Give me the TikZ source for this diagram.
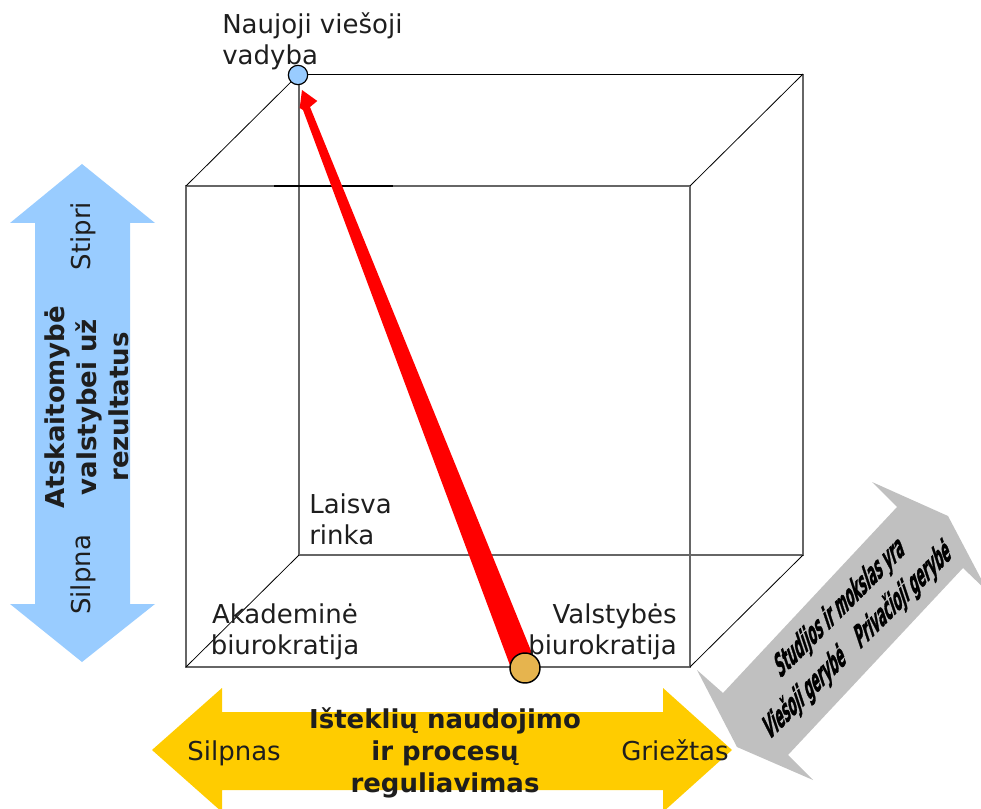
\documentclass[tikz,border=0pt]{standalone}
\usepackage{fontspec}
\setmainfont{DejaVu Sans}
\newfontfamily\gfont{DejaVu Sans Bold}[FakeBold=2]
\definecolor{cblue}{HTML}{99CCFF}
\definecolor{cyellow}{HTML}{FFCC00}
\definecolor{cgray}{HTML}{C0C0C0}
\definecolor{corange}{HTML}{E6B44E}
\definecolor{ctext}{HTML}{1E1E1E}
\begin{document}
\begin{tikzpicture}[x=0.75pt,y=-0.75pt,
  edge/.style={draw=black!60, line width=0.9pt},
  diag/.style={draw=black, line width=0.6pt},
  lbl/.style={font=\fontsize{19.5}{23.25}\selectfont, text=ctext, inner sep=0pt},
  blbl/.style={font=\bfseries\fontsize{19.5}{24}\selectfont, text=ctext, inner sep=0pt},
  glbl/.style={font=\gfont\fontsize{21}{24}\selectfont, text=black, inner sep=0pt, transform shape},
  gtf/.style={rotate=45, xslant=0.5, xscale=0.49},
  dot/.style={circle, draw=black, inner sep=0pt}]
\useasboundingbox (0,0) rectangle (981,809);
\clip (0,0) rectangle (981,809);

% grey double arrow
\fill[cgray] (697,670) -- (723,693) -- (897,507) -- (872,482) -- (948,516)
  -- (988,592) -- (963,568) -- (788,755) -- (813,780) -- (737,747) -- cycle;
% yellow double arrow
\fill[cyellow] (152,750) -- (222,688) -- (222,712) -- (663,712) -- (663,688)
  -- (732,750) -- (663,812) -- (663,790) -- (222,790) -- (222,812) -- cycle;
% blue double arrow
\fill[cblue] (82,164) -- (155,223) -- (130,223) -- (130,604) -- (155,604)
  -- (82,662) -- (10,604) -- (35,604) -- (35,223) -- (10,223) -- cycle;

% cube
\coordinate (ftl) at (186,186);
\coordinate (ftr) at (690,186);
\coordinate (fbl) at (186,667);
\coordinate (fbr) at (690,667);
\coordinate (btl) at (299,74);
\coordinate (btr) at (803,74);
\coordinate (bbl) at (299,555);
\coordinate (bbr) at (803,555);
\draw[edge] (bbl) -- (btl);
\draw[edge] (bbl) -- (bbr) -- (btr);
\draw[diag] (btl) -- (btr);
\draw[edge] (ftl) -- (ftr) -- (fbr) -- (fbl) -- cycle;
\draw[diag] (ftl) -- (btl);
\draw[diag] (ftr) -- (btr);
\draw[diag] (fbr) -- (bbr);
\draw[diag] (fbl) -- (bbl);
\draw[black, line width=0.8pt] (274,186) -- (393,186);

% axis texts
\node[lbl, rotate=90, anchor=base] (stipri) at (90,236) {Stipri};
\node[lbl, rotate=90, anchor=base] (silpna) at (90,575) {Silpna};
\node[blbl, rotate=90, align=center] (atsk) at (87,407) {Atskaitomybė\\valstybei už\\rezultatus};
\node[lbl, anchor=base] (silpnas) at (234,760) {Silpnas};
\node[lbl, anchor=base] (grieztas) at (675,760) {Griežtas};
\node[blbl, align=center] (istek) at (445,753) {Išteklių naudojimo\\ir procesų\\reguliavimas};

% grey arrow texts
\begin{scope}[shift={(840,608)}, gtf]
  \node[glbl] (stud) at (0,0) {Studijos ir mokslas yra};
\end{scope}
\begin{scope}[shift={(805,693)}, gtf]
  \node[glbl] (vies) at (0,0) {Viešoji gerybė};
\end{scope}
\begin{scope}[shift={(903,595)}, gtf]
  \node[glbl] (priv) at (0,0) {Privačioji gerybė};
\end{scope}

% corner labels
\node[lbl, align=left, anchor=north west] (nvv) at (222,12) {Naujoji viešoji\\vadyba};
\node[lbl, align=left, anchor=north west] (lr) at (309,493) {Laisva\\rinka};

% red tapered arrow
\coordinate (rbl) at (511,668);
\coordinate (rbr) at (538,668);
\coordinate (rsl) at (303,110);
\coordinate (rsr) at (310,107);
\coordinate (rhl) at (299.7,108);
\coordinate (rhr) at (317.3,101);
\coordinate (rtip) at (302,90);
\fill[red] (rbl) -- (rsl) -- (rhl) -- (rtip) -- (rhr) -- (rsr) -- (rbr) -- cycle;

\node[lbl, align=center, anchor=north] (ab) at (285,603) {Akademinė\\biurokratija};
\node[lbl, align=right, anchor=north east] (vb) at (677,603) {Valstybės\\biurokratija};

% dots
\node[dot, fill=cblue, minimum size=14.5pt, line width=0.9pt] (top) at (298,75) {};
\node[dot, fill=corange, minimum size=22.5pt, line width=1.1pt] (bottom) at (525,668) {};
\end{tikzpicture}
\end{document}
